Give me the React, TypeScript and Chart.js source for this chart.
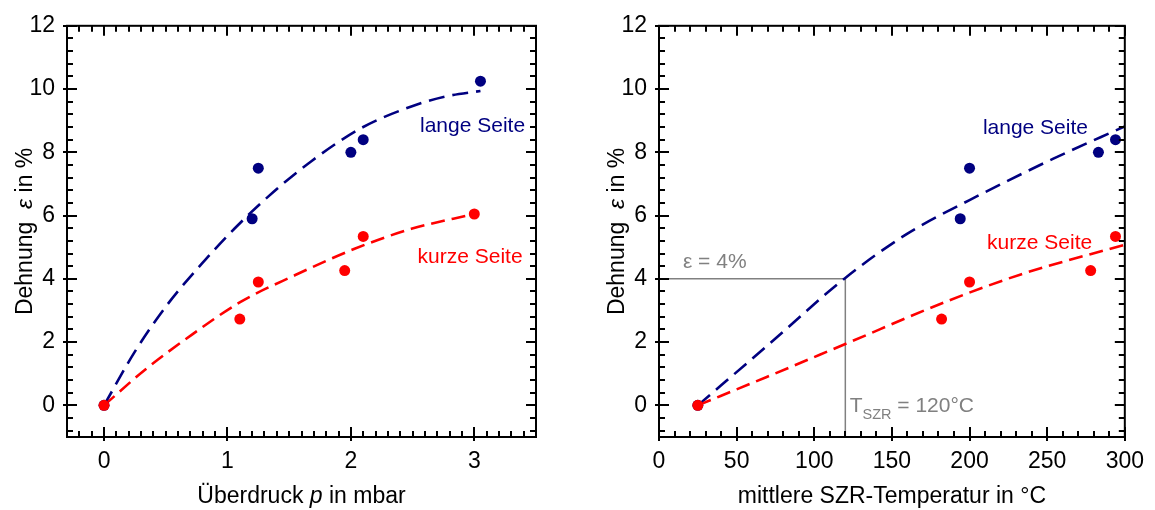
import React, { useEffect, useRef } from 'react';
import { Chart, registerables } from 'chart.js';
Chart.register(...registerables);

const FONT = '"Liberation Sans", Arial, Helvetica, sans-serif';
const NAVY = '#000080';
const RED = '#ff0000';
const GRAY = '#808080';
const TICK_SIZE = 23;
const TITLE_SIZE = 23;
const LABEL_SIZE = 21;

// ---------- left chart: strain vs. overpressure ----------
const pressureLange = [0, 1.2, 1.25, 2.0, 2.1, 3.05];
const strainLange = [0, 5.9, 7.5, 8.0, 8.4, 10.25];
const pressureKurz = [0, 1.1, 1.25, 1.95, 2.1, 3.0];
const strainKurz = [0, 2.73, 3.9, 4.26, 5.34, 6.05];
const fitPressureLange = [0, 0.25, 0.51, 0.82, 1.06, 1.33, 1.68, 2.09, 2.49, 2.76, 3.05];
const fitStrainLange = [0, 1.7, 3.17, 4.6, 5.6, 6.6, 7.72, 8.78, 9.45, 9.76, 9.94];
const fitPressureKurz = [0, 0.33, 0.71, 1.11, 1.55, 2.03, 2.49, 3.0];
const fitStrainKurz = [0, 1.12, 2.23, 3.28, 4.12, 4.95, 5.58, 6.05];
const leftXTicks = [0, 1, 2, 3];

// ---------- right chart: strain vs. mean SZR temperature ----------
const tempLange = [25, 194, 200, 283, 294];
const strainLangeT = [0, 5.9, 7.5, 8.0, 8.4];
const tempKurz = [25, 182, 200, 278, 294];
const strainKurzT = [0, 2.73, 3.9, 4.26, 5.34];
const fitTempLange = [25, 71, 120, 160, 200, 254, 300];
const fitStrainLangeT = [0, 1.94, 4.03, 5.43, 6.49, 7.8, 8.82];
const fitTempKurz = [25, 69, 120, 186, 233, 300];
const fitStrainKurzT = [0, 0.89, 1.94, 3.3, 4.14, 5.08];
const guideTemp = [0, 120, 120];
const guideStrain = [4, 4, -1];
const rightXTicks = [0, 50, 100, 150, 200, 250, 300];

const yTicks = [0, 2, 4, 6, 8, 10, 12];

const zip = (xs: number[], ys: number[]) => xs.map((x, i) => ({ x, y: ys[i] }));

function range(a: number, b: number, step: number) {
  const out: number[] = [];
  const n = Math.round((b - a) / step);
  for (let i = 0; i <= n; i++) out.push(+(a + i * step).toFixed(6));
  return out;
}

type Run = { t: string; italic?: boolean; size?: number; dy?: number };

function drawRuns(ctx: CanvasRenderingContext2D, runs: Run[], x: number, y: number, align: 'left' | 'center', baseSize: number) {
  const fontOf = (r: Run) => `${r.italic ? 'italic ' : ''}${r.size ?? baseSize}px ${FONT}`;
  let total = 0;
  for (const r of runs) {
    ctx.font = fontOf(r);
    total += ctx.measureText(r.t).width;
  }
  let cx = align === 'center' ? x - total / 2 : x;
  ctx.textAlign = 'left';
  ctx.textBaseline = 'alphabetic';
  for (const r of runs) {
    ctx.font = fontOf(r);
    ctx.fillText(r.t, cx, y + (r.dy ?? 0));
    cx += ctx.measureText(r.t).width;
  }
}

const decorPlugin = {
  id: 'decor',
  afterDraw(chart: any, _args: any, opts: any) {
    const { ctx, chartArea: a, scales } = chart;
    const xs = scales.x;
    const ys = scales.y;
    ctx.save();
    ctx.strokeStyle = '#000';
    ctx.lineWidth = 2;
    ctx.lineCap = 'butt';
    const major = 10;
    const minor = 6;
    const out = 4;
    ctx.beginPath();
    for (const v of opts.xMinor) {
      const p = Math.round(xs.getPixelForValue(v));
      ctx.moveTo(p, a.bottom);
      ctx.lineTo(p, a.bottom - minor);
      ctx.moveTo(p, a.top);
      ctx.lineTo(p, a.top + minor);
    }
    for (const v of opts.xMajor) {
      const p = Math.round(xs.getPixelForValue(v));
      ctx.moveTo(p, a.bottom + out);
      ctx.lineTo(p, a.bottom - major);
      ctx.moveTo(p, a.top);
      ctx.lineTo(p, a.top + major);
    }
    for (const v of opts.yMinor) {
      const p = Math.round(ys.getPixelForValue(v));
      ctx.moveTo(a.left, p);
      ctx.lineTo(a.left + minor, p);
      ctx.moveTo(a.right, p);
      ctx.lineTo(a.right - minor, p);
    }
    for (const v of opts.yMajor) {
      const p = Math.round(ys.getPixelForValue(v));
      ctx.moveTo(a.left - out, p);
      ctx.lineTo(a.left + major, p);
      ctx.moveTo(a.right, p);
      ctx.lineTo(a.right - major, p);
    }
    ctx.stroke();
    ctx.strokeRect(a.left, a.top, a.right - a.left, a.bottom - a.top);

    // axis titles
    ctx.fillStyle = '#000';
    drawRuns(ctx, opts.xTitle, (a.left + a.right) / 2, a.bottom + 66, 'center', TITLE_SIZE);
    ctx.save();
    ctx.translate(a.left - 35, (a.top + a.bottom) / 2);
    ctx.rotate(-Math.PI / 2);
    drawRuns(ctx, opts.yTitle, 0, 0, 'center', TITLE_SIZE);
    ctx.restore();

    // in-plot labels
    for (const l of opts.labels) {
      ctx.fillStyle = l.color;
      drawRuns(ctx, l.runs, xs.getPixelForValue(l.x), ys.getPixelForValue(l.y), 'left', LABEL_SIZE);
    }
    ctx.restore();
  },
};

const yTitle: Run[] = [{ t: 'Dehnung  ' }, { t: 'ε', italic: true }, { t: ' in %' }];

function buildConfig(p: any) {
  const pointSet = (data: any, color: string, order: number) => ({
    data,
    showLine: false,
    pointRadius: 5.5,
    pointBackgroundColor: color,
    pointBorderWidth: 0,
    order,
  });
  const lineSet = (data: any, color: string, dash: number[], order: number) => ({
    data,
    showLine: true,
    pointRadius: 0,
    borderColor: color,
    borderWidth: 2.6,
    borderDash: dash,
    cubicInterpolationMode: 'monotone',
    fill: false,
    order,
  });
  const datasets: any[] = [
    pointSet(p.kurzPts, RED, 0),
    pointSet(p.langePts, NAVY, 1),
    lineSet(p.kurzFit, RED, [14, 7], 2),
    lineSet(p.langeFit, NAVY, [16, 8], 3),
  ];
  if (p.guide) {
    datasets.push({
      data: p.guide,
      showLine: true,
      pointRadius: 0,
      borderColor: GRAY,
      borderWidth: 1.5,
      tension: 0,
      order: 4,
    });
  }
  return {
    type: 'scatter',
    data: { datasets },
    plugins: [decorPlugin],
    options: {
      animation: false,
      responsive: false,
      devicePixelRatio: 1,
      events: [],
      layout: { autoPadding: false, padding: { left: 0, top: 23, right: p.padRight, bottom: 0 } },
      plugins: {
        legend: { display: false },
        tooltip: { enabled: false },
        decor: {
          xMajor: p.xTicks,
          xMinor: p.xMinor,
          yMajor: yTicks,
          yMinor: range(-0.8, 11.6, 0.4),
          xTitle: p.xTitle,
          yTitle,
          labels: p.labels,
        },
      },
      scales: {
        x: {
          type: 'linear',
          min: p.xMin,
          max: p.xMax,
          grid: { display: false, drawTicks: false },
          border: { display: false },
          ticks: { color: '#000', font: { size: TICK_SIZE, family: FONT }, padding: 11, maxRotation: 0, autoSkip: false },
          afterBuildTicks: (s: any) => {
            s.ticks = p.xTicks.map((v: number) => ({ value: v }));
          },
          afterFit: (s: any) => {
            s.height = 73;
          },
        },
        y: {
          type: 'linear',
          min: -1,
          max: 12,
          grid: { display: false, drawTicks: false },
          border: { display: false },
          ticks: { color: '#000', font: { size: TICK_SIZE, family: FONT }, padding: 12, autoSkip: false },
          afterBuildTicks: (s: any) => {
            s.ticks = yTicks.map((v) => ({ value: v }));
          },
          afterFit: (s: any) => {
            s.width = p.yWidth;
          },
        },
      },
    },
  };
}

function ChartCanvas({ config, width, left }: { config: any; width: number; left: number }) {
  const ref = useRef<HTMLCanvasElement>(null);
  useEffect(() => {
    if (!ref.current) return;
    const chart = new Chart(ref.current, config);
    return () => chart.destroy();
  }, []);
  return (
    <canvas
      ref={ref}
      width={width}
      height={510}
      style={{ position: 'absolute', left, top: 0, width, height: 510 }}
    />
  );
}

export default function App() {
  const leftConfig = buildConfig({
    langePts: zip(pressureLange, strainLange),
    kurzPts: zip(pressureKurz, strainKurz),
    langeFit: zip(fitPressureLange, fitStrainLange),
    kurzFit: zip(fitPressureKurz, fitStrainKurz),
    xMin: -0.3,
    xMax: 3.5,
    xTicks: leftXTicks,
    xMinor: range(-0.3, 3.5, 0.1),
    padRight: 41,
    yWidth: 67,
    xTitle: [{ t: 'Überdruck ' }, { t: 'p', italic: true }, { t: ' in mbar' }],
    labels: [
      { x: 2.56, y: 8.63, color: NAVY, runs: [{ t: 'lange Seite' }] },
      { x: 2.54, y: 4.49, color: RED, runs: [{ t: 'kurze Seite' }] },
    ],
  });
  const rightConfig = buildConfig({
    langePts: zip(tempLange, strainLangeT),
    kurzPts: zip(tempKurz, strainKurzT),
    langeFit: zip(fitTempLange, fitStrainLangeT),
    kurzFit: zip(fitTempKurz, fitStrainKurzT),
    guide: zip(guideTemp, guideStrain),
    xMin: 0,
    xMax: 300,
    xTicks: rightXTicks,
    xMinor: range(0, 300, 10),
    padRight: 27,
    yWidth: 82,
    xTitle: [{ t: 'mittlere SZR-Temperatur in °C' }],
    labels: [
      { x: 208.6, y: 8.59, color: NAVY, runs: [{ t: 'lange Seite' }] },
      { x: 211.3, y: 4.95, color: RED, runs: [{ t: 'kurze Seite' }] },
      { x: 15.4, y: 4.34, color: GRAY, runs: [{ t: 'ε = 4%' }] },
      {
        x: 122.8,
        y: -0.21,
        color: GRAY,
        runs: [{ t: 'T' }, { t: 'SZR', size: 14.5, dy: 6.5 }, { t: ' = 120°C' }],
      },
    ],
  });
  return (
    <div style={{ position: 'absolute', left: 0, top: 0, width: 1155, height: 510, background: '#fff', overflow: 'hidden' }}>
      <ChartCanvas config={leftConfig} width={577} left={0} />
      <ChartCanvas config={rightConfig} width={578} left={577} />
    </div>
  );
}
